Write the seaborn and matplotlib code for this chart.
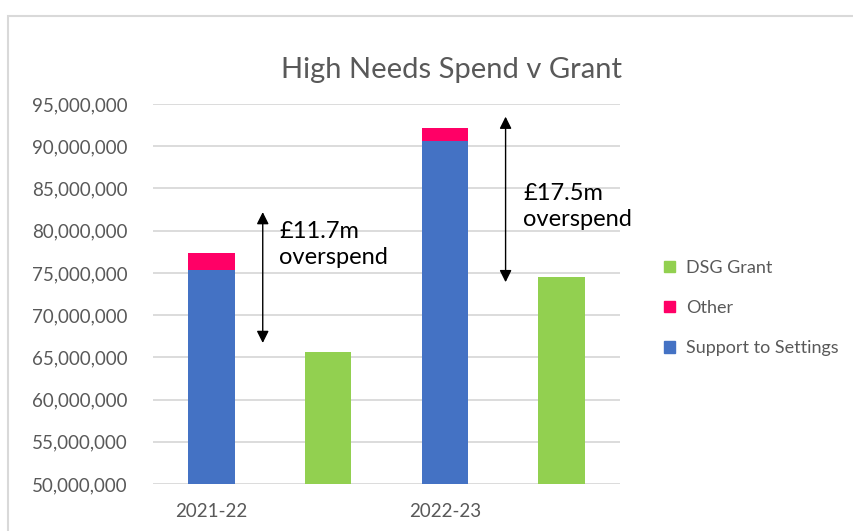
#!/usr/bin/env python3

import pandas as pd
import seaborn as sns
import matplotlib.pyplot as plt
from matplotlib.patches import Patch, Rectangle
from matplotlib.ticker import FuncFormatter

sns.set_theme(style="white")
plt.rcParams["font.family"] = ["Lato", "DejaVu Sans"]

BLUE = "#4472C4"
PINK = "#FF0066"
GREEN = "#92D050"
GREY_TXT = "#595959"

# values (GBP)
years = ["2021-22", "2022-23"]
support = [75.4e6, 90.6e6]
other = [1.9e6, 1.5e6]
dsg_grant = [65.6e6, 74.5e6]
overspend_labels = ["£11.7m\noverspend", "£17.5m\noverspend"]

if __name__ == "__main__":
    order = []
    for y in years:
        order += [f"{y} spend", f"{y} grant"]

    spend = pd.DataFrame(
        {
            "slot": [f"{y} spend" for y in years],
            "support": support,
            "total": [s + o for s, o in zip(support, other)],
        }
    )
    grant = pd.DataFrame({"slot": [f"{y} grant" for y in years], "grant": dsg_grant})

    fig = plt.figure(figsize=(8.54, 5.31), dpi=100)
    # light frame around the chart like the excel export
    fig.patches.append(
        Rectangle(
            (8 / 854, -0.2), 2, (531 - 16) / 531 + 0.2,
            transform=fig.transFigure, fill=False, ec="#D9D9D9", lw=1.5,
        )
    )
    ax = fig.add_axes([153 / 854, 47 / 531, 467 / 854, 380 / 531])

    common = dict(order=order, width=0.4, saturation=1, errorbar=None,
                  linewidth=0, ax=ax)
    sns.barplot(data=spend, x="slot", y="total", color=PINK, **common)
    sns.barplot(data=spend, x="slot", y="support", color=BLUE, **common)
    sns.barplot(data=grant, x="slot", y="grant", color=GREEN, **common)

    ax.set_ylim(50e6, 95e6)
    ax.set_yticks(range(50_000_000, 95_000_001, 5_000_000))
    ax.yaxis.set_major_formatter(FuncFormatter(lambda v, _: f"{v:,.0f}"))
    ax.set_xticks(range(len(order)))
    ax.set_xticklabels([years[0], "", years[1], ""])
    ax.set_xlim(-0.5, len(order) - 0.5)
    ax.set_xlabel("")
    ax.set_ylabel("")

    ax.yaxis.grid(True, color="#D9D9D9", lw=1.3)
    ax.set_axisbelow(True)
    for s in ax.spines.values():
        s.set_visible(False)
    ax.tick_params(axis="y", length=0, pad=18, labelsize=13.5, labelcolor=GREY_TXT)
    ax.tick_params(axis="x", length=0, pad=14, labelsize=13.5, labelcolor=GREY_TXT)

    # overspend arrows + notes
    arrows = [(0.44, 66.7e6, 82.2e6), (2.52, 73.9e6, 93.5e6)]
    text_pos = [(0.58, 78.4e6), (2.67, 82.9e6)]
    for (xa, y0, y1), (xt, yt), lab in zip(arrows, text_pos, overspend_labels):
        ax.annotate(
            "", xy=(xa, y1), xytext=(xa, y0),
            arrowprops=dict(arrowstyle="<|-|>", color="black", lw=1,
                            mutation_scale=18, shrinkA=0, shrinkB=0),
        )
        ax.text(xt, yt, lab, ha="left", va="center", fontsize=17,
                color="black", linespacing=1.3)

    fig.text(452 / 854, (531 - 70) / 531, "High Needs Spend v Grant",
             ha="center", va="center", fontsize=21, color=GREY_TXT)

    handles = [
        Patch(color=GREEN, label="DSG Grant"),
        Patch(color=PINK, label="Other"),
        Patch(color=BLUE, label="Support to Settings"),
    ]
    fig.legend(
        handles=handles, loc="center left",
        bbox_to_anchor=(648 / 854, (531 - 308) / 531),
        frameon=False, handlelength=0.6, handleheight=0.6, handletextpad=0.6,
        labelspacing=1.35, fontsize=13, labelcolor=GREY_TXT,
    )

    plt.savefig("out.png", dpi=100)
